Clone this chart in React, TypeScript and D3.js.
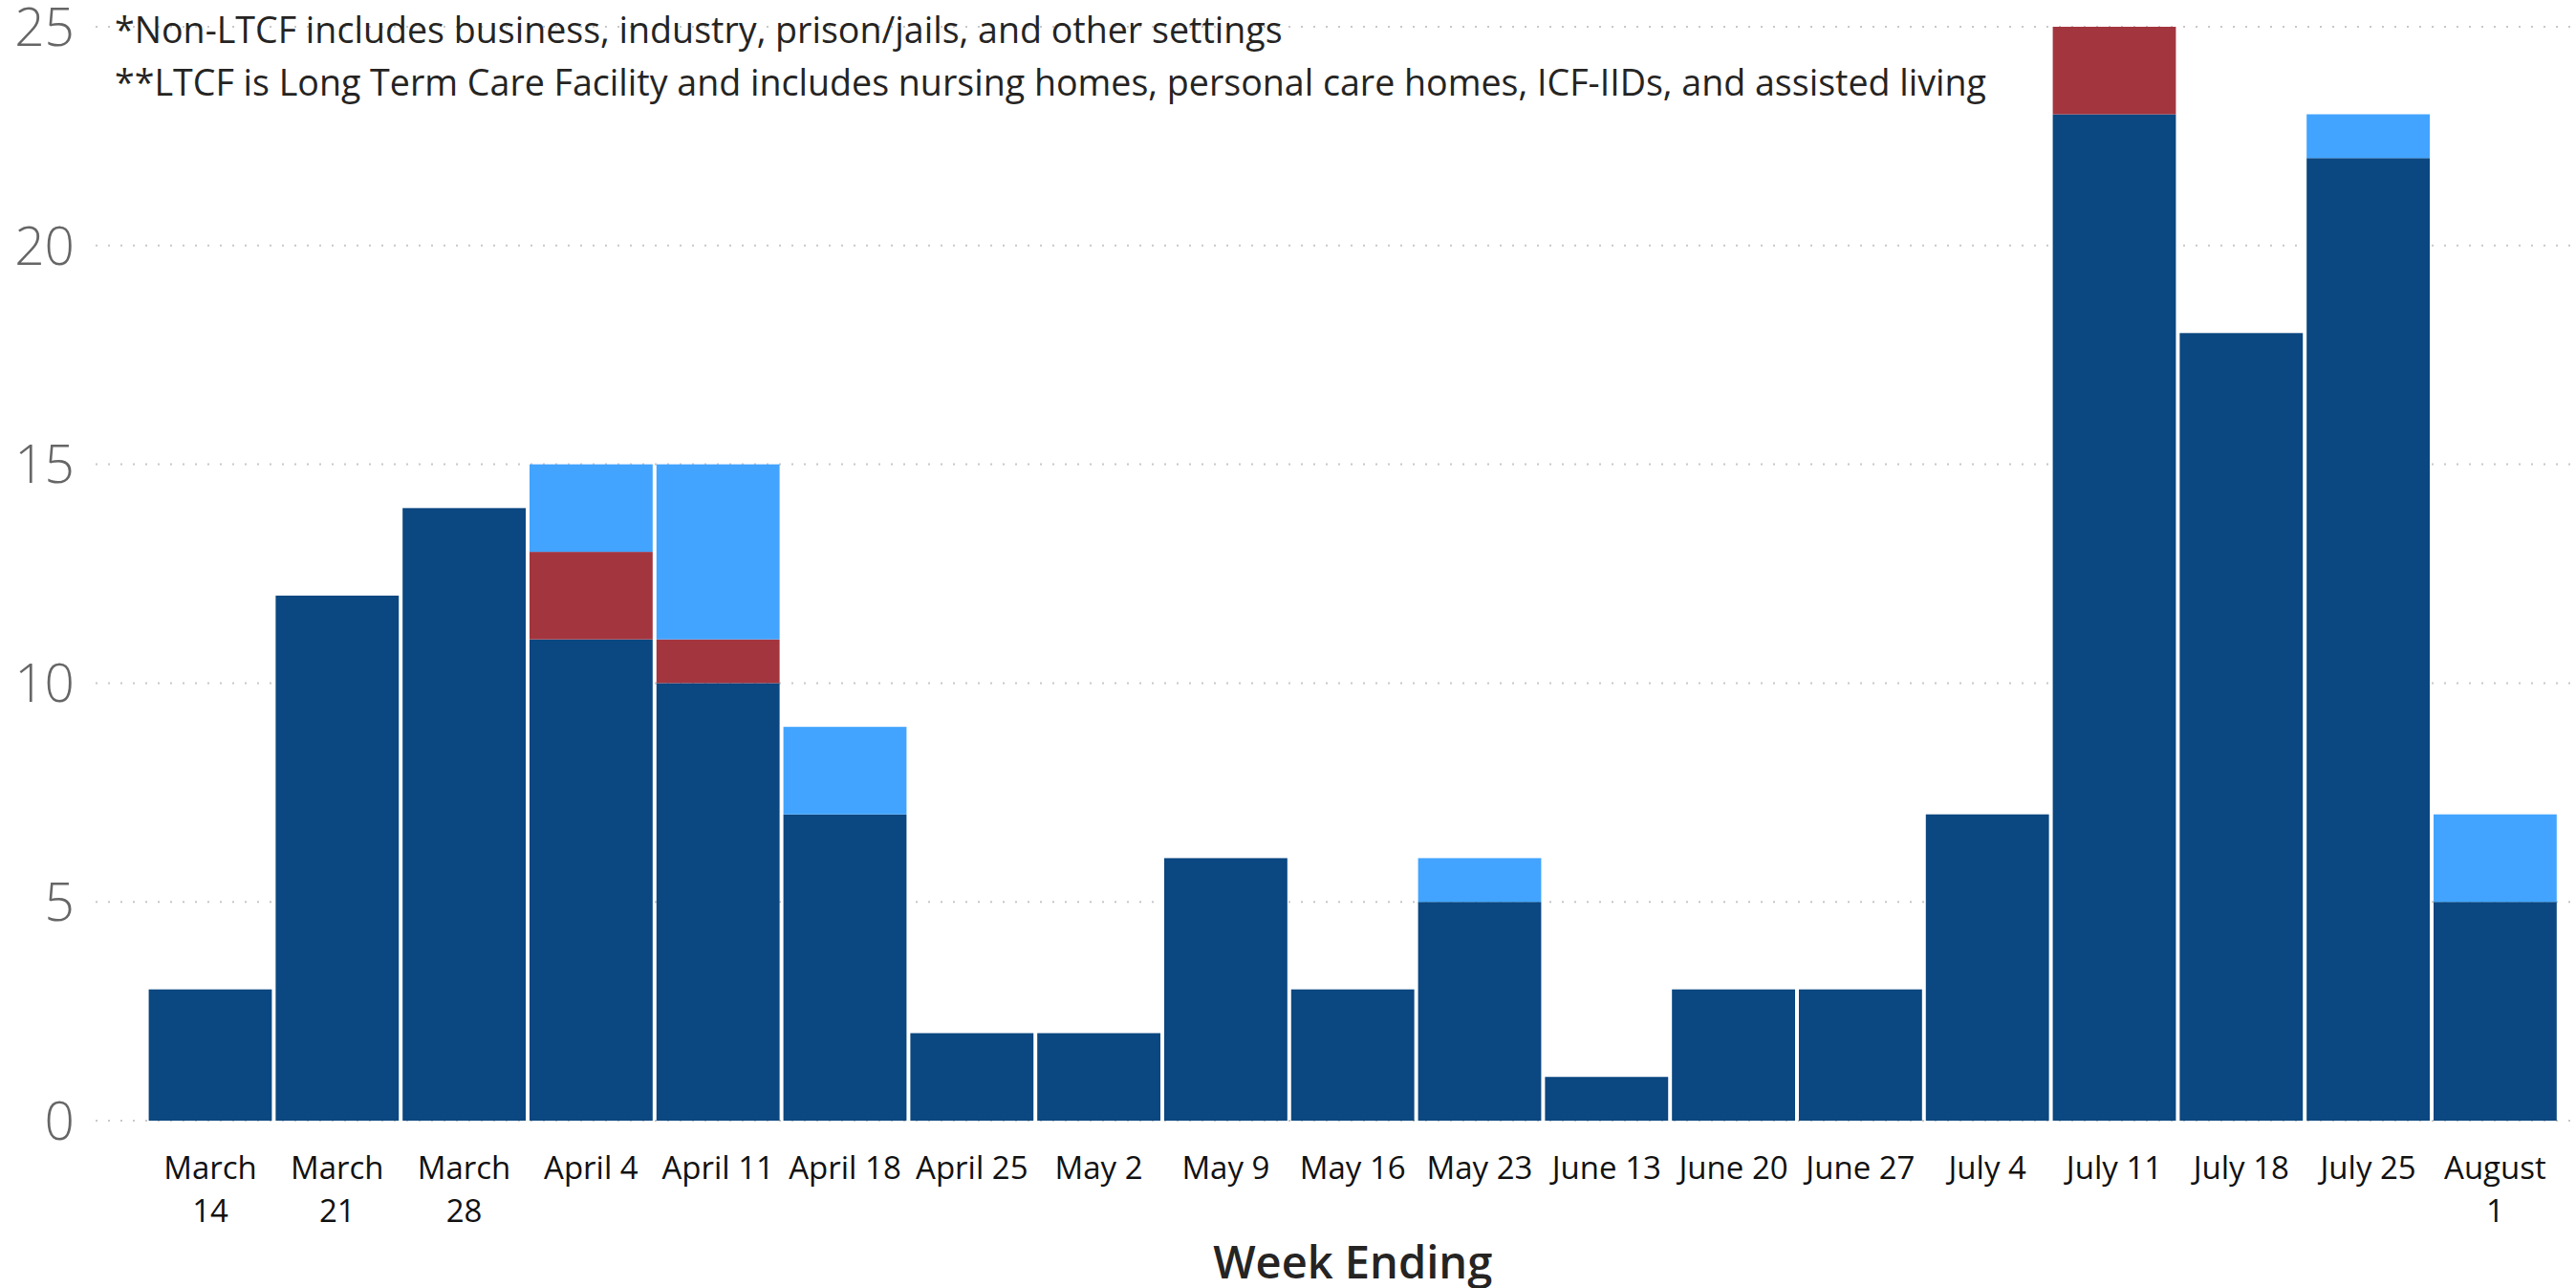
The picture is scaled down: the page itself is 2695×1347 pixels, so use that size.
import { useEffect, useRef } from "react";
import * as d3 from "d3";

const width = 2695, height = 1347;

const weeks = [
    "March 14", "March 21", "March 28", "April 4", "April 11", "April 18", "April 25",
    "May 2", "May 9", "May 16", "May 23", "June 13", "June 20", "June 27",
    "July 4", "July 11", "July 18", "July 25", "August 1",
];
const nonLtcf = [3, 12, 14, 11, 10, 7, 2, 2, 6, 3, 5, 1, 3, 3, 7, 23, 18, 22, 5];
const ltcf = [0, 0, 0, 2, 1, 0, 0, 0, 0, 0, 0, 0, 0, 0, 0, 2, 0, 0, 0];
const other = [0, 0, 0, 2, 4, 2, 0, 0, 0, 0, 1, 0, 0, 0, 0, 0, 0, 1, 2];
const yTicks = [0, 5, 10, 15, 20, 25];
const notes = [
    "*Non-LTCF includes business, industry, prison/jails, and other settings",
    "**LTCF is Long Term Care Facility and includes nursing homes, personal care homes, ICF-IIDs, and assisted living",
];

const keys = ["nonLtcf", "ltcf", "other"];
const colors = { nonLtcf: "#0b4780", ltcf: "#a3353f", other: "#42a4ff" };
const font = "'Segoe UI', 'Open Sans', sans-serif";

function App() {
    const svgRef = useRef(null);

    useEffect(() => {
        const svg = d3.select(svgRef.current);
        svg.selectAll("*").remove();

        const x = d3.scaleBand()
            .domain(weeks)
            .range([153.6, 2676.8])
            .paddingInner(0.03)
            .paddingOuter(0.015);
        const y = d3.scaleLinear().domain([0, 25]).range([1172, 28]);

        // dotted gridlines
        svg.append("g")
            .selectAll("line")
            .data(yTicks)
            .join("line")
            .attr("x1", 100).attr("x2", width)
            .attr("y1", d => y(d)).attr("y2", d => y(d))
            .attr("stroke", "#c8c8c8")
            .attr("stroke-width", 2)
            .attr("stroke-dasharray", "2 11");

        svg.append("g")
            .selectAll("text")
            .data(yTicks)
            .join("text")
            .attr("x", 78)
            .attr("y", d => y(d))
            .attr("dy", "0.36em")
            .attr("text-anchor", "end")
            .attr("font-family", font)
            .attr("font-weight", 300)
            .attr("font-size", 55)
            .attr("fill", "#666666")
            .text(d => d);

        const table = weeks.map((week, i) => ({ week, nonLtcf: nonLtcf[i], ltcf: ltcf[i], other: other[i] }));
        const series = d3.stack().keys(keys)(table);

        svg.append("g")
            .selectAll("g")
            .data(series)
            .join("g")
            .attr("fill", d => colors[d.key])
            .selectAll("rect")
            .data(d => d.filter(s => s[1] > s[0]))
            .join("rect")
            .attr("x", d => x(d.data.week))
            .attr("y", d => y(d[1]))
            .attr("width", x.bandwidth())
            .attr("height", d => y(d[0]) - y(d[1]));

        // x labels, wrapped when wider than the band
        const labels = svg.append("g")
            .selectAll("text")
            .data(weeks)
            .join("text")
            .attr("x", d => x(d) + x.bandwidth() / 2)
            .attr("y", 1233)
            .attr("text-anchor", "middle")
            .attr("font-family", font)
            .attr("font-size", 33)
            .attr("fill", "#111111")
            .text(d => d);

        labels.each(function (d) {
            const t = d3.select(this);
            if (this.getComputedTextLength() > x.bandwidth()) {
                const words = d.split(" ");
                t.text(null);
                t.append("tspan").attr("x", x(d) + x.bandwidth() / 2).text(words[0]);
                t.append("tspan").attr("x", x(d) + x.bandwidth() / 2).attr("dy", 45).text(words.slice(1).join(" "));
            }
        });

        svg.append("text")
            .attr("x", (153.6 + 2676.8) / 2)
            .attr("y", 1337)
            .attr("text-anchor", "middle")
            .attr("font-family", font)
            .attr("font-weight", 600)
            .attr("font-size", 47)
            .attr("fill", "#252423")
            .text("Week Ending");

        svg.append("g")
            .selectAll("text")
            .data(notes)
            .join("text")
            .attr("x", 120)
            .attr("y", (d, i) => 45 + i * 55)
            .attr("font-family", font)
            .attr("font-size", 37.6)
            .attr("fill", "#252423")
            .text(d => d);
    }, []);

    return (
        <svg ref={svgRef} width={width} height={height}
            style={{ position: "absolute", left: 0, top: 0, background: "#fff" }}></svg>
    );
}

export default App;
